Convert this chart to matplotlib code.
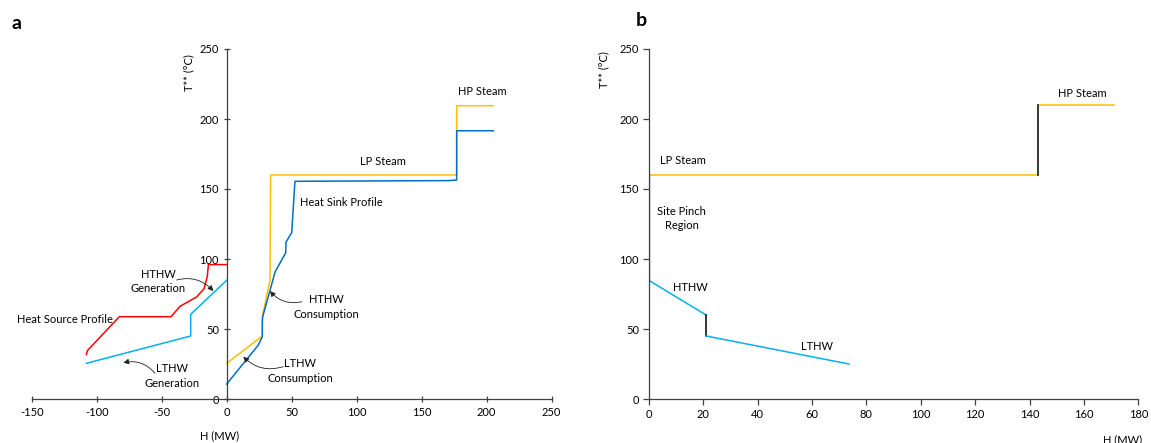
import matplotlib
matplotlib.use('Agg')
import matplotlib.pyplot as plt

plt.rcParams['font.family'] = ['Lato', 'DejaVu Sans']
plt.rcParams['font.size'] = 8
plt.rcParams['axes.unicode_minus'] = False

# panel a data (H in MW, T** in C)
source_h = [-107.9, -107.2, -82.6, -42.8, -35.9, -23.1, -17.4, -14.9, -14.1, 0]
source_t = [31.7, 34.5, 58.8, 58.8, 66.2, 72.9, 78.8, 87.6, 96, 96]

gen_h = [-107.9, -27.7, -27.7, 0]
gen_t = [25.5, 45, 60.5, 84.8]

util_h = [0, 27.4, 27.4, 33.3, 33.8, 176.9, 176.9, 205]
util_t = [25.5, 45, 58.8, 85, 160, 160, 209.5, 209.5]

sink_h = [0, 24.4, 27.4, 27.4, 27.7, 33.3, 37.2, 45.4, 45.6, 50.0, 52.5, 170.5, 176.9, 176.9, 205]
sink_t = [10.7, 38.6, 44.5, 55, 58.8, 77.6, 90.7, 104.5, 112.1, 118.8, 155.5, 156, 156.4, 191.6, 191.6]

# panel b data
lp_h = [0, 143.1]
lp_t = [160, 160]
hp_h = [143.1, 171]
hp_t = [210, 210]
hp_step_h = [143.1, 143.1]
hp_step_t = [160, 210]
pinch_h = [0, 0]
pinch_t = [84.8, 160]
hthw_h = [0, 21.1]
hthw_t = [84.8, 60]
hw_step_h = [21.1, 21.1]
hw_step_t = [60, 45]
lthw_h = [21.1, 73.6]
lthw_t = [45, 25]

red = '#FF0000'
yellow = '#FFC000'
lblue = '#00B0F0'
dblue = '#0070C0'
axc = '#404040'

W, H = 1151, 443
fig = plt.figure(figsize=(W / 100, H / 100), dpi=100)

ax = fig.add_axes([31.7 / W, 44 / H, 520 / W, 350 / H])
bx = fig.add_axes([648.7 / W, 44 / H, 489.6 / W, 350 / H])

# ---- panel a ----
lw = 1.1
ax.plot(source_h, source_t, color=red, lw=lw)
ax.plot(gen_h, gen_t, color=lblue, lw=lw)
ax.plot(util_h, util_t, color=yellow, lw=lw)
ax.plot(sink_h, sink_t, color=dblue, lw=lw)

ax.set_xlim(-150, 250)
ax.set_ylim(0, 250)
ax.set_xticks(range(-150, 251, 50))
ax.set_yticks(range(0, 251, 50))
ax.spines['left'].set_position(('data', 0))
ax.spines['top'].set_visible(False)
ax.spines['right'].set_visible(False)
for s in ['left', 'bottom']:
    ax.spines[s].set_color(axc)
    ax.spines[s].set_linewidth(0.9)
ax.tick_params(direction='inout', length=5, width=0.9, color=axc, labelsize=8, pad=3)
ax.set_facecolor('none')

ax.set_xlabel('H (MW)', fontsize=8)
ax.xaxis.set_label_coords(0.362, -0.088)
ax.set_ylabel('T** (°C)', fontsize=8)
ax.yaxis.set_label_coords(0.312, 0.933)

ax.text(-124.4, 57.1, 'Heat Source Profile', ha='center', va='center')
ax.text(-52.8, 84, 'HTHW\nGeneration', ha='center', va='center', linespacing=1.35)
ax.text(-42.3, 16.4, 'LTHW\nGeneration', ha='center', va='center', linespacing=1.35)
ax.text(76.4, 65.7, 'HTHW\nConsumption', ha='center', va='center', linespacing=1.35)
ax.text(56.4, 20, 'LTHW\nConsumption', ha='center', va='center', linespacing=1.35)
ax.text(88.4, 140.2, 'Heat Sink Profile', ha='center', va='center')
ax.text(120.5, 169.3, 'LP Steam', ha='center', va='center')
ax.text(196.9, 219.3, 'HP Steam', ha='center', va='center')

arrow = dict(arrowstyle='-|>', color='#202020', lw=0.6, mutation_scale=8,
             shrinkA=0, shrinkB=0)
ax.annotate('', xy=(-10.3, 77.1), xytext=(-38.5, 85),
            arrowprops=dict(arrow, connectionstyle='arc3,rad=-0.3'))
ax.annotate('', xy=(-79.5, 25.9), xytext=(-55.2, 18.4),
            arrowprops=dict(arrow, connectionstyle='arc3,rad=0.3'))
ax.annotate('', xy=(33.3, 77.1), xytext=(57.7, 69.5),
            arrowprops=dict(arrow, connectionstyle='arc3,rad=-0.3'))
ax.annotate('', xy=(12.8, 30.2), xytext=(43.5, 23.1),
            arrowprops=dict(arrow, connectionstyle='arc3,rad=-0.3'))

# ---- panel b ----
bx.plot(lp_h, lp_t, color=yellow, lw=lw)
bx.plot(hp_h, hp_t, color=yellow, lw=lw)
bx.plot(hp_step_h, hp_step_t, color='black', lw=lw)
bx.plot(pinch_h, pinch_t, color='black', lw=1.6)
bx.plot(hthw_h, hthw_t, color=lblue, lw=lw)
bx.plot(hw_step_h, hw_step_t, color='black', lw=lw)
bx.plot(lthw_h, lthw_t, color=lblue, lw=lw)

bx.set_xlim(0, 180)
bx.set_ylim(0, 250)
bx.set_xticks(range(0, 181, 20))
bx.set_yticks(range(0, 251, 50))
bx.spines['top'].set_visible(False)
bx.spines['right'].set_visible(False)
for s in ['left', 'bottom']:
    bx.spines[s].set_color(axc)
    bx.spines[s].set_linewidth(0.9)
bx.tick_params(direction='out', length=4, width=0.9, color=axc, labelsize=8, pad=3)
bx.set_facecolor('none')

bx.set_xlabel('H (MW)', fontsize=8)
bx.xaxis.set_label_coords(0.968, -0.10)
bx.set_ylabel('T** (°C)', fontsize=8)
bx.yaxis.set_label_coords(-0.081, 0.94)

bx.text(12.7, 170.7, 'LP Steam', ha='center', va='center')
bx.text(12.2, 129, 'Site Pinch\nRegion', ha='center', va='center', linespacing=1.35)
bx.text(159.5, 218.4, 'HP Steam', ha='center', va='center')
bx.text(15.4, 79.3, 'HTHW', ha='center', va='center')
bx.text(61.8, 37.4, 'LTHW', ha='center', va='center')

fig.text(16.7 / W, 1 - 23.3 / H, 'a', fontsize=14, fontweight='bold', ha='center', va='center')
fig.text(641.7 / W, 1 - 20.7 / H, 'b', fontsize=14, fontweight='bold', ha='center', va='center')

fig.savefig('out.png', dpi=100)
